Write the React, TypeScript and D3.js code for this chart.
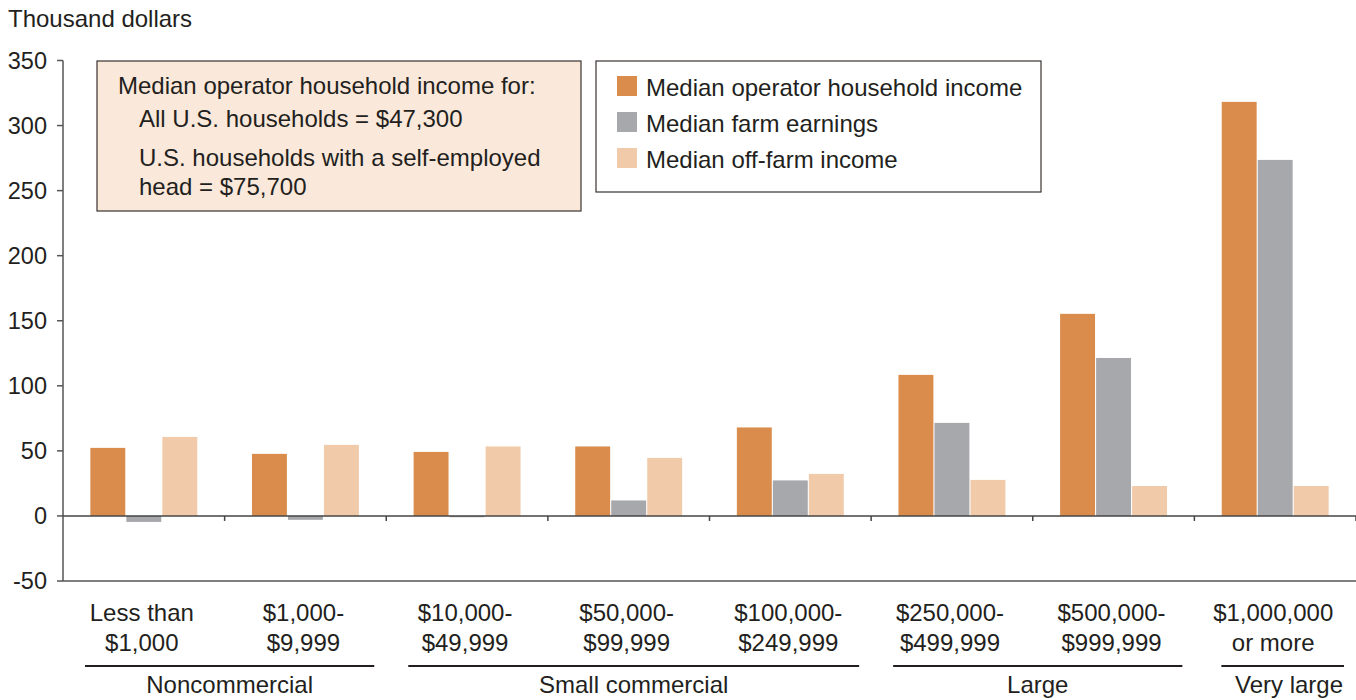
import React, { useRef, useEffect } from 'react';
import * as d3 from 'd3';

const categories = [
  ['Less than', '$1,000'],
  ['$1,000-', '$9,999'],
  ['$10,000-', '$49,999'],
  ['$50,000-', '$99,999'],
  ['$100,000-', '$249,999'],
  ['$250,000-', '$499,999'],
  ['$500,000-', '$999,999'],
  ['$1,000,000', 'or more'],
];
const seriesNames = ['Median operator household income', 'Median farm earnings', 'Median off-farm income'];
const seriesColors = ['#d98c4b', '#a7a8ab', '#f1caa9'];
const householdIncome = [52.3, 47.7, 49.2, 53.4, 68, 108.4, 155.3, 318.2];
const farmEarnings = [-4.6, -3, -1, 11.9, 27.3, 71.5, 121.4, 273.6];
const offFarmIncome = [60.7, 54.6, 53.4, 44.6, 32.3, 27.7, 23, 23];
const yTicks = [-50, 0, 50, 100, 150, 200, 250, 300, 350];
const groups = [
  { name: 'Noncommercial', from: 0, to: 1 },
  { name: 'Small commercial', from: 2, to: 4 },
  { name: 'Large', from: 5, to: 6 },
  { name: 'Very large', from: 7, to: 7 },
];
const noteLines = [
  'Median operator household income for:',
  'All U.S. households = $47,300',
  'U.S. households with a self-employed',
  'head = $75,700',
];

const W = 1356;
const H = 700;
const FONT = '"Liberation Sans", Arial, Helvetica, sans-serif';
const INK = '#231f20';
const FS = 24;

const App = () => {
  const svgRef = useRef(null);

  useEffect(() => {
    const svg = d3.select(svgRef.current);
    svg.selectAll('*').remove();

    const left = 63;
    const right = W;
    const y = d3.scaleLinear().domain([-50, 350]).range([581, 60.5]);
    const x = d3.scaleBand().domain(categories.map((_, i) => String(i))).range([left, right]);
    const inner = d3.scaleBand().domain(['0', '1', '2']).range([0, x.bandwidth()])
      .paddingInner(0.03).paddingOuter(0.76);

    const g = svg.append('g').attr('font-family', FONT).attr('fill', INK);

    // y title
    g.append('text').attr('x', 8).attr('y', 27).attr('font-size', FS).text('Thousand dollars');

    // y axis
    g.append('line').attr('x1', left).attr('x2', left).attr('y1', y(350)).attr('y2', y(-50))
      .attr('stroke', '#555').attr('stroke-width', 1.5);
    yTicks.forEach(t => {
      g.append('line').attr('x1', left - 6).attr('x2', left).attr('y1', y(t)).attr('y2', y(t))
        .attr('stroke', '#555').attr('stroke-width', 1.5);
      g.append('text').attr('x', 47).attr('y', y(t)).attr('dy', '0.36em')
        .attr('text-anchor', 'end').attr('font-size', 23.5).text(t);
    });

    // bottom axis line
    g.append('line').attr('x1', left).attr('x2', right).attr('y1', y(-50)).attr('y2', y(-50))
      .attr('stroke', '#555').attr('stroke-width', 1.5);

    // bars
    const data = [householdIncome, farmEarnings, offFarmIncome];
    data.forEach((vals, s) => {
      g.selectAll(null).data(vals).join('rect')
        .attr('x', (_, i) => x(String(i)) + inner(String(s)))
        .attr('y', d => y(Math.max(0, d)))
        .attr('width', inner.bandwidth())
        .attr('height', d => Math.abs(y(d) - y(0)))
        .attr('fill', seriesColors[s]);
    });

    // zero line with ticks
    g.append('line').attr('x1', left).attr('x2', right).attr('y1', y(0)).attr('y2', y(0))
      .attr('stroke', '#444').attr('stroke-width', 1.5);
    categories.forEach((_, i) => {
      const xx = x(String(i)) + x.bandwidth();
      g.append('line').attr('x1', xx).attr('x2', xx).attr('y1', y(0)).attr('y2', y(0) + 5)
        .attr('stroke', '#444').attr('stroke-width', 1.5);
    });

    // category labels
    categories.forEach((lines, i) => {
      const cx = x(String(i)) + x.bandwidth() / 2;
      lines.forEach((ln, k) => {
        g.append('text').attr('x', cx - 2).attr('y', 621 + k * 30).attr('text-anchor', 'middle')
          .attr('font-size', FS).text(ln);
      });
    });

    // group labels with rules
    groups.forEach(gr => {
      const x0 = x(String(gr.from)) + (gr.from === 7 ? 27 : 22);
      const x1 = Math.min(x(String(gr.to)) + x.bandwidth() - 12, W - 10);
      g.append('line').attr('x1', x0).attr('x2', x1).attr('y1', 666).attr('y2', 666)
        .attr('stroke', INK).attr('stroke-width', 2);
      g.append('text').attr('x', gr.from === 7 ? 1289 : (x0 + x1) / 2).attr('y', 693)
        .attr('text-anchor', 'middle').attr('font-size', FS).text(gr.name);
    });

    // note box
    g.append('rect').attr('x', 97).attr('y', 61).attr('width', 484).attr('height', 150)
      .attr('fill', '#fae8da').attr('stroke', '#3a3330').attr('stroke-width', 1.2);
    const noteX = [118, 139, 139, 139];
    const noteY = [94, 127, 166, 195];
    noteLines.forEach((ln, i) => {
      g.append('text').attr('x', noteX[i]).attr('y', noteY[i]).attr('font-size', FS).text(ln);
    });

    // legend
    g.append('rect').attr('x', 596).attr('y', 61).attr('width', 445).attr('height', 131)
      .attr('fill', '#fff').attr('stroke', '#3a3330').attr('stroke-width', 1.2);
    seriesNames.forEach((name, i) => {
      const cy = 87 + i * 36;
      g.append('rect').attr('x', 617).attr('y', cy - 11).attr('width', 20).attr('height', 20)
        .attr('fill', seriesColors[i]);
      g.append('text').attr('x', 646).attr('y', cy).attr('dy', '0.36em').attr('font-size', FS).text(name);
    });
  }, []);

  return (
    <svg ref={svgRef} width={W} height={H}
      style={{ position: 'absolute', left: 0, top: 0, background: '#fff' }} />
  );
};

export default App;
